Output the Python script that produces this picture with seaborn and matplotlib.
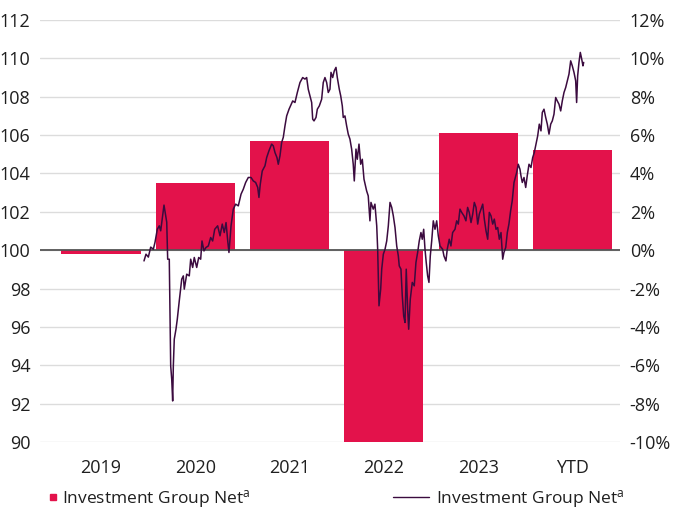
import numpy as np
import pandas as pd
import matplotlib
matplotlib.use("Agg")
import matplotlib.pyplot as plt
import seaborn as sns
from matplotlib.lines import Line2D

# annual returns (right axis, %)
years = ["2019", "2020", "2021", "2022", "2023", "YTD"]
annual_pct = [-0.2, 3.5, 5.7, -10.0, 6.1, 5.2]

# index level (left axis), decimal year / value
line_t = [
    2019.956, 2019.977, 2020.002, 2020.027, 2020.055, 2020.073, 2020.097, 2020.118, 2020.133, 2020.168,
    2020.197, 2020.207, 2020.224, 2020.239, 2020.250, 2020.260, 2020.267, 2020.277, 2020.295, 2020.309,
    2020.330, 2020.356, 2020.373, 2020.383, 2020.409, 2020.436, 2020.451, 2020.472, 2020.489, 2020.515,
    2020.536, 2020.557, 2020.571, 2020.592, 2020.613, 2020.638, 2020.663, 2020.684, 2020.706, 2020.737,
    2020.762, 2020.786, 2020.807, 2020.826, 2020.844, 2020.857, 2020.879, 2020.903, 2020.928, 2020.956,
    2020.985, 2021.009, 2021.034, 2021.062, 2021.091, 2021.115, 2021.140, 2021.162, 2021.175, 2021.189,
    2021.210, 2021.239, 2021.257, 2021.281, 2021.310, 2021.327, 2021.345, 2021.366, 2021.380, 2021.398,
    2021.416, 2021.433, 2021.451, 2021.469, 2021.494, 2021.533, 2021.557, 2021.582, 2021.610, 2021.639,
    2021.663, 2021.681, 2021.698, 2021.716, 2021.734, 2021.745, 2021.759, 2021.780, 2021.794, 2021.815,
    2021.840, 2021.857, 2021.875, 2021.893, 2021.910, 2021.928, 2021.939, 2021.957, 2021.974, 2021.992,
    2022.006, 2022.027, 2022.042, 2022.059, 2022.069, 2022.087, 2022.105, 2022.122, 2022.140, 2022.158,
    2022.175, 2022.186, 2022.204, 2022.218, 2022.236, 2022.254, 2022.271, 2022.289, 2022.317, 2022.334,
    2022.352, 2022.363, 2022.387, 2022.405, 2022.424, 2022.434, 2022.448, 2022.466, 2022.477, 2022.494,
    2022.512, 2022.530, 2022.547, 2022.565, 2022.583, 2022.600, 2022.618, 2022.636, 2022.653, 2022.663,
    2022.681, 2022.695, 2022.710, 2022.724, 2022.737, 2022.752, 2022.763, 2022.780, 2022.801, 2022.822,
    2022.840, 2022.858, 2022.875, 2022.893, 2022.907, 2022.922, 2022.936, 2022.949, 2022.964, 2022.978,
    2022.992, 2023.007, 2023.024, 2023.042, 2023.060, 2023.077, 2023.095, 2023.123, 2023.137, 2023.158,
    2023.172, 2023.193, 2023.211, 2023.229, 2023.254, 2023.272, 2023.289, 2023.307, 2023.325, 2023.349,
    2023.370, 2023.388, 2023.405, 2023.424, 2023.442, 2023.459, 2023.477, 2023.495, 2023.512, 2023.530,
    2023.548, 2023.565, 2023.583, 2023.601, 2023.618, 2023.636, 2023.654, 2023.671, 2023.689, 2023.707,
    2023.724, 2023.742, 2023.760, 2023.773, 2023.792, 2023.809, 2023.826, 2023.844, 2023.861, 2023.880,
    2023.908, 2023.925, 2023.943, 2023.954, 2023.968, 2023.986, 2024.004, 2024.020, 2024.039, 2024.060,
    2024.078, 2024.095, 2024.113, 2024.131, 2024.148, 2024.166, 2024.180, 2024.198, 2024.216, 2024.233,
    2024.251, 2024.269, 2024.286, 2024.304, 2024.322, 2024.339, 2024.357, 2024.375, 2024.392, 2024.410,
    2024.428, 2024.445, 2024.463, 2024.481, 2024.498, 2024.516, 2024.534, 2024.544, 2024.555, 2024.569,
    2024.583, 2024.598, 2024.611, 2024.619,
]
line_v = [
    99.44, 99.79, 99.64, 100.16, 100.05, 100.42, 101.09, 101.27, 101.01, 102.35,
    101.46, 99.53, 99.53, 93.97, 93.27, 92.14, 93.97, 95.36, 95.88, 96.40,
    97.36, 98.49, 98.66, 97.97, 98.75, 98.66, 99.53, 99.10, 99.62, 99.10,
    99.62, 99.53, 100.48, 99.96, 100.14, 100.22, 100.66, 100.48, 101.09, 101.27,
    100.75, 101.36, 100.92, 101.44, 100.48, 99.88, 101.27, 102.14, 102.40, 102.31,
    102.92, 103.18, 103.53, 103.79, 103.79, 103.61, 103.53, 103.27, 102.75, 103.44,
    104.13, 104.40, 104.83, 105.18, 105.53, 105.44, 105.09, 104.83, 104.48, 104.92,
    105.62, 105.88, 106.48, 107.00, 107.35, 107.78, 107.70, 108.22, 108.74, 109.00,
    108.92, 109.00, 108.39, 108.05, 107.70, 106.83, 106.74, 106.92, 107.35, 107.52,
    107.87, 108.74, 109.00, 108.74, 108.22, 108.39, 109.27, 109.00, 109.35, 109.53,
    109.00, 108.39, 108.05, 107.52, 106.92, 107.00, 106.48, 106.05, 105.79, 105.27,
    104.48, 103.61, 105.27, 104.74, 105.53, 104.48, 104.74, 103.70, 103.09, 102.83,
    101.53, 102.49, 102.14, 102.40, 101.27, 100.05, 97.10, 97.97, 99.01, 99.79,
    100.05, 100.48, 101.27, 102.49, 102.23, 101.79, 101.18, 100.22, 99.70, 99.18,
    99.01, 97.62, 96.57, 96.23, 99.01, 96.92, 95.88, 97.45, 98.32, 98.14,
    99.36, 99.88, 100.48, 100.92, 100.57, 101.09, 100.05, 99.36, 98.66, 98.32,
    99.70, 100.48, 101.53, 101.09, 101.53, 100.75, 100.22, 100.05, 99.70, 99.44,
    100.05, 100.57, 100.22, 100.92, 101.09, 101.53, 101.36, 102.14, 101.97, 101.79,
    101.53, 102.23, 101.97, 101.44, 101.88, 102.49, 102.23, 101.36, 101.88, 102.14,
    102.40, 101.62, 101.01, 100.57, 101.97, 101.79, 101.36, 101.62, 101.09, 101.18,
    100.57, 100.92, 99.53, 99.88, 100.14, 100.92, 101.36, 102.05, 102.57, 103.53,
    104.05, 104.48, 104.22, 103.87, 103.53, 103.79, 103.27, 103.87, 104.48, 104.31,
    104.83, 105.09, 105.53, 105.96, 106.57, 106.22, 107.18, 107.35, 106.92, 106.57,
    106.05, 106.57, 106.74, 107.09, 107.96, 107.78, 107.61, 107.26, 107.78, 108.22,
    108.48, 108.83, 109.18, 109.87, 109.61, 109.27, 108.83, 107.70, 109.09, 109.79,
    110.31, 109.96, 109.61, 109.79,
]

bar_color = "#E3124B"
line_color = "#3B0B3F"
text_color = "#1f1f1f"

sns.set_theme(style="white")
plt.rcParams["font.family"] = ["Open Sans", "DejaVu Sans"]
plt.rcParams["mathtext.default"] = "regular"

fig = plt.figure(figsize=(6.84, 5.09), dpi=100)
ax = fig.add_axes([40 / 684, 1 - 442 / 509, 580 / 684, 422 / 509])

df_bar = pd.DataFrame({"year": years, "pct": annual_pct})
sns.barplot(data=df_bar, x="year", y="pct", color=bar_color, saturation=1,
            width=0.84, errorbar=None, linewidth=0, ax=ax, zorder=2)

ax.set_ylim(-10, 12)
ax.set_yticks(range(-10, 13, 2))
ax.set_yticklabels([f"{v}%" for v in range(-10, 13, 2)])
ax.grid(axis="y", color="#dcdcdc", lw=1)
ax.grid(axis="x", visible=False)
ax.set_axisbelow(True)
ax.axhline(0, color="#555555", lw=1.3, zorder=3)

# line on the index scale (left)
ax2 = ax.twinx()
df_line = pd.DataFrame({"x": np.array(line_t) - 2019.5, "v": line_v})
sns.lineplot(data=df_line, x="x", y="v", ax=ax2, color=line_color, lw=1.1,
             estimator=None, sort=False)
ax2.set_ylim(90, 112)
ax2.set_yticks(range(90, 113, 2))
ax2.grid(False)

# twinx puts the original ticks on the left, so swap sides here
ax.yaxis.tick_right()
ax2.yaxis.tick_left()

ax.set_xlim(-0.647, 5.504)
for a in (ax, ax2):
    a.set_xlabel("")
    a.set_ylabel("")
    for s in a.spines.values():
        s.set_visible(False)
    a.tick_params(length=0, labelsize=13, colors=text_color)
ax.tick_params(axis="x", pad=12.5)
ax.tick_params(axis="y", pad=7)
ax2.tick_params(axis="y", pad=7)

lbl = "Investment Group Net$^{a}$"
h1 = Line2D([], [], marker="s", ls="none", color=bar_color, markersize=4)
h2 = Line2D([], [], color=line_color, lw=1)
fig.legend(handles=[h1], labels=[lbl], loc="center left",
           bbox_to_anchor=(47.6 / 684, 1 - 499 / 509), frameon=False,
           borderpad=0, borderaxespad=0, handlelength=0.6,
           handletextpad=0.25, fontsize=12.5, labelcolor=text_color)
fig.legend(handles=[h2], labels=[lbl], loc="center left",
           bbox_to_anchor=(393 / 684, 1 - 499 / 509), frameon=False,
           borderpad=0, borderaxespad=0, handlelength=2.1,
           handletextpad=0.4, fontsize=12.5, labelcolor=text_color)

fig.savefig("out.png", dpi=100)
